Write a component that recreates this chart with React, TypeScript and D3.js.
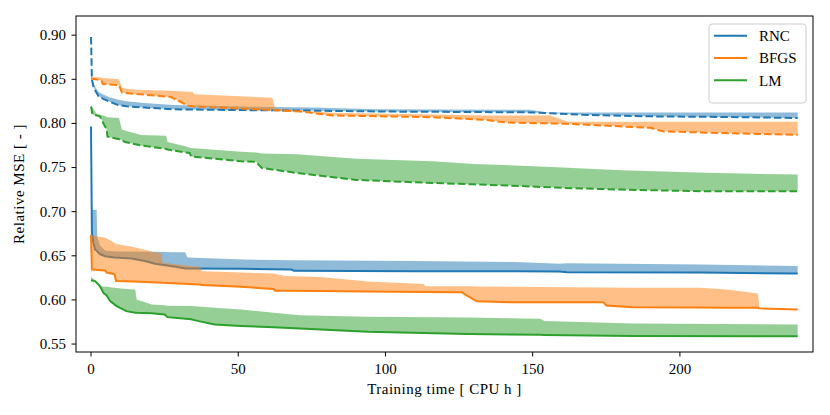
import React from 'react'
import * as d3 from 'd3'

// [x (CPU h), line value, upper edge of band]
type Row = [number, number, number]

const methods = ['RNC', 'BFGS', 'LM']
const colors = ['#1f77b4', '#ff7f0e', '#2ca02c']

const rncDashed: Row[] = [
  [0, 0.898, 0.9], [0.3, 0.85, 0.853], [0.8, 0.842, 0.846], [1.5, 0.837, 0.841],
  [2.5, 0.831, 0.836], [4, 0.828, 0.833], [6, 0.825, 0.83], [9, 0.821, 0.827],
  [12, 0.8195, 0.825], [18, 0.818, 0.823], [28, 0.816, 0.821], [40, 0.8155, 0.82],
  [55, 0.815, 0.819], [75, 0.8145, 0.818], [97, 0.8135, 0.816], [149, 0.8125, 0.8154],
  [155, 0.8117, 0.8125], [167, 0.8098, 0.8125], [190, 0.808, 0.8125], [224, 0.807, 0.8125],
  [240, 0.806, 0.8125],
]

const bfgsDashed: Row[] = [
  [0, 0.851, 0.853], [3.5, 0.849, 0.852], [4, 0.8445, 0.8515], [9.5, 0.8435, 0.85],
  [10.5, 0.835, 0.84], [15, 0.8335, 0.838], [27, 0.83, 0.837], [33, 0.82, 0.836],
  [34.5, 0.8195, 0.836], [35, 0.8193, 0.833], [61.6, 0.8152, 0.829], [62.5, 0.815, 0.8165],
  [71, 0.8135, 0.8145], [82, 0.809, 0.812], [116, 0.807, 0.81], [134, 0.804, 0.809],
  [141, 0.801, 0.809], [156, 0.8, 0.809], [162, 0.7995, 0.802], [190, 0.795, 0.802],
  [194, 0.791, 0.802], [215, 0.789, 0.802], [240, 0.787, 0.802],
]

const lmDashed: Row[] = [
  [0, 0.819, 0.821], [0.5, 0.81, 0.818], [2, 0.809, 0.8105], [3, 0.808, 0.81],
  [5.3, 0.793, 0.8075], [5.6, 0.785, 0.807], [9.5, 0.782, 0.806], [10.5, 0.781, 0.793],
  [11.5, 0.779, 0.792], [17, 0.775, 0.787], [25.5, 0.771, 0.786], [26, 0.7705, 0.779],
  [32, 0.767, 0.774], [33.5, 0.7665, 0.7725], [34, 0.7626, 0.772], [51, 0.757, 0.768],
  [56, 0.7565, 0.767], [58, 0.7495, 0.766], [70, 0.7438, 0.765], [90, 0.736, 0.76],
  [116, 0.7325, 0.757], [130, 0.731, 0.754], [146, 0.729, 0.752], [160, 0.727, 0.75],
  [180, 0.725, 0.747], [209, 0.723, 0.744], [240, 0.723, 0.742],
]

const rncSolid: Row[] = [
  [0, 0.7965, 0.7965], [0.3, 0.676, 0.7023], [0.8, 0.6646, 0.7023], [1.4, 0.657, 0.7023],
  [1.9, 0.656, 0.7023], [2.1, 0.655, 0.672], [3, 0.652, 0.662], [4.8, 0.6495, 0.656],
  [8, 0.648, 0.655], [13.8, 0.647, 0.655], [18.3, 0.644, 0.6545], [21.7, 0.641, 0.6545],
  [28, 0.638, 0.654], [32, 0.6356, 0.654], [32.7, 0.6356, 0.648], [52, 0.6352, 0.6458],
  [68, 0.6345, 0.645], [69, 0.633, 0.645], [110, 0.6325, 0.644], [144, 0.6325, 0.643],
  [159, 0.6322, 0.641], [161.6, 0.6314, 0.6415], [207, 0.631, 0.64], [240, 0.63, 0.6385],
]

const bfgsSolid: Row[] = [
  [0, 0.674, 0.674], [0.3, 0.6344, 0.673], [4.8, 0.6333, 0.6704], [5.3, 0.631, 0.67],
  [8, 0.629, 0.6646], [8.5, 0.6215, 0.6635], [14.4, 0.621, 0.66], [20.6, 0.62, 0.655],
  [24, 0.6195, 0.652], [24.3, 0.6194, 0.642], [35, 0.6178, 0.638], [37, 0.6175, 0.6375],
  [37.6, 0.6168, 0.6325], [51, 0.6148, 0.631], [62, 0.6125, 0.63], [62.5, 0.6105, 0.6295],
  [66, 0.6103, 0.627], [78, 0.61, 0.626], [94, 0.6095, 0.621], [113, 0.609, 0.618],
  [113.5, 0.609, 0.6156], [126, 0.6088, 0.6155], [127, 0.6062, 0.6155], [129, 0.6024, 0.6154],
  [131, 0.5985, 0.6153], [142, 0.5975, 0.6148], [174, 0.5975, 0.614], [175, 0.5937, 0.614],
  [184, 0.5918, 0.6137], [207, 0.5915, 0.6137], [216, 0.591, 0.6118], [226.5, 0.591, 0.6073],
  [227, 0.5905, 0.5905], [240, 0.5892, 0.5892],
]

const lmSolid: Row[] = [
  [0, 0.6223, 0.626], [1.5, 0.621, 0.622], [3, 0.6156, 0.6175], [3.6, 0.612, 0.6156],
  [4.2, 0.608, 0.6152], [5.3, 0.605, 0.6148], [6.5, 0.5986, 0.6143], [8.7, 0.593, 0.6135],
  [12, 0.5873, 0.6125], [15, 0.5855, 0.6118], [15.5, 0.5854, 0.6005], [20.6, 0.585, 0.5948],
  [25, 0.5835, 0.594], [26, 0.5805, 0.5935], [34, 0.578, 0.593], [36.5, 0.576, 0.5925],
  [42, 0.5722, 0.591], [51, 0.5705, 0.5892], [62, 0.569, 0.5855], [71, 0.5675, 0.5825],
  [94, 0.564, 0.581], [128, 0.5615, 0.58], [152.5, 0.5605, 0.5787], [154, 0.5604, 0.576],
  [184, 0.559, 0.5733], [240, 0.5588, 0.5722],
]

const dashedSeries = [rncDashed, bfgsDashed, lmDashed]
const solidSeries = [rncSolid, bfgsSolid, lmSolid]

const xTicks = [0, 50, 100, 150, 200]
const yTicks = [0.55, 0.6, 0.65, 0.7, 0.75, 0.8, 0.85, 0.9]

const W = 830
const H = 415
const margin = { top: 16, right: 17, bottom: 63, left: 76 }
const font = '"Liberation Serif", "DejaVu Serif", serif'

const App: React.FC = () => {
  const innerW = W - margin.left - margin.right
  const innerH = H - margin.top - margin.bottom

  const x = d3.scaleLinear().domain([-5.1, 245.2]).range([0, innerW])
  const y = d3.scaleLinear().domain([0.541, 0.9217]).range([innerH, 0])

  const area = d3
    .area<Row>()
    .x((d) => x(d[0]))
    .y0((d) => y(d[1]))
    .y1((d) => y(d[2]))

  const line = d3
    .line<Row>()
    .x((d) => x(d[0]))
    .y((d) => y(d[1]))

  return (
    <svg
      width={W}
      height={H}
      style={{ position: 'absolute', left: 0, top: 0, background: 'white' }}
      fontFamily={font}
    >
      <g transform={`translate(${margin.left},${margin.top})`}>
        <defs>
          <clipPath id="plot-clip">
            <rect width={innerW} height={innerH} />
          </clipPath>
        </defs>
        <g clipPath="url(#plot-clip)">
          {methods.map((m, i) => (
            <g key={m}>
              <path d={area(dashedSeries[i])!} fill={colors[i]} fillOpacity={0.5} />
              <path
                d={line(dashedSeries[i])!}
                fill="none"
                stroke={colors[i]}
                strokeWidth={2}
                strokeDasharray="7.5 3.2"
              />
              <path d={area(solidSeries[i])!} fill={colors[i]} fillOpacity={0.5} />
              <path d={line(solidSeries[i])!} fill="none" stroke={colors[i]} strokeWidth={2} />
            </g>
          ))}
        </g>

        {/* frame */}
        <rect width={innerW} height={innerH} fill="none" stroke="black" strokeWidth={1} />

        {/* x ticks */}
        {xTicks.map((t) => (
          <g key={t} transform={`translate(${x(t)},${innerH})`}>
            <line y2={4.5} stroke="black" strokeWidth={1} />
            <text y={22} textAnchor="middle" fontSize={15}>
              {t}
            </text>
          </g>
        ))}

        {/* y ticks */}
        {yTicks.map((t) => (
          <g key={t} transform={`translate(0,${y(t)})`}>
            <line x2={-4.5} stroke="black" strokeWidth={1} />
            <text x={-10} dy="0.33em" textAnchor="end" fontSize={15}>
              {t.toFixed(2)}
            </text>
          </g>
        ))}

        <text
          x={innerW / 2}
          y={innerH + 42}
          textAnchor="middle"
          fontSize={15}
          letterSpacing={0.5}
        >
          Training time [ CPU h ]
        </text>
        <text
          transform={`translate(${-52},${innerH / 2}) rotate(-90)`}
          textAnchor="middle"
          fontSize={15}
          letterSpacing={0.5}
        >
          Relative MSE [ - ]
        </text>

        {/* legend */}
        <g transform={`translate(${633},${8})`}>
          <rect
            width={97}
            height={79}
            rx={3}
            fill="white"
            fillOpacity={0.8}
            stroke="#cccccc"
            strokeWidth={1}
          />
          {methods.map((m, i) => (
            <g key={m} transform={`translate(0,${11.7 + i * 22.3})`}>
              <line x1={5} x2={38} stroke={colors[i]} strokeWidth={2} />
              <text x={50} dy="0.35em" fontSize={15}>
                {m}
              </text>
            </g>
          ))}
        </g>
      </g>
    </svg>
  )
}

export default App
